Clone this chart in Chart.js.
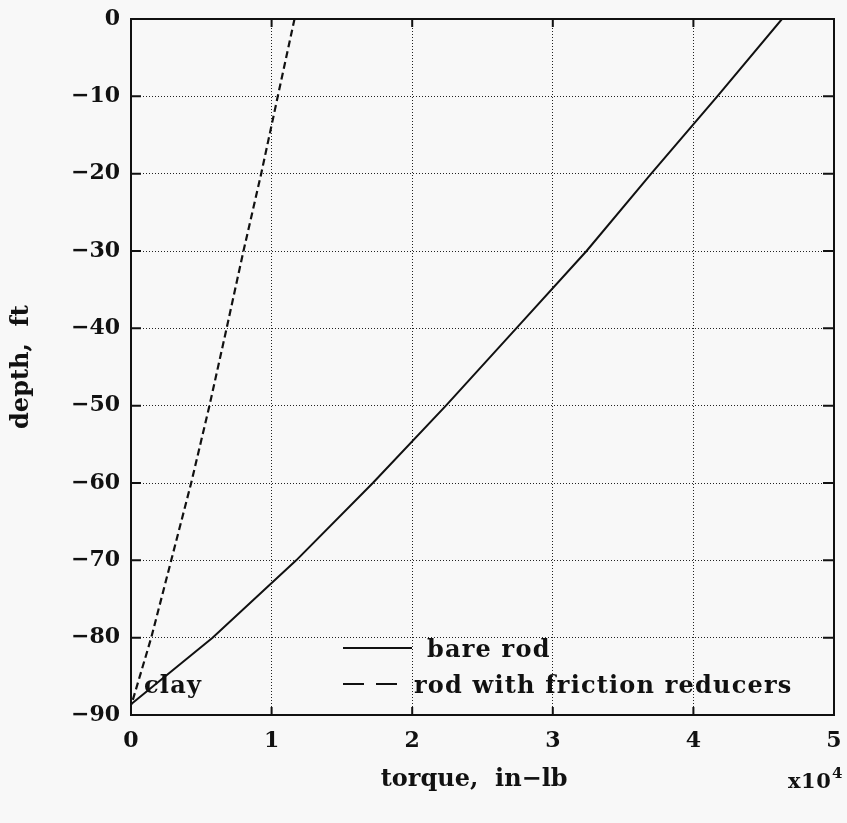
<!DOCTYPE html>
<html><head><meta charset="utf-8">
<script src="https://cdn.jsdelivr.net/npm/chart.js@4.4.0/dist/chart.umd.min.js"></script>
<style>html,body{margin:0;padding:0;background:#f8f8f8;}#wrap{width:847px;height:823px;}</style>
</head><body><div id="wrap"><canvas id="c" width="847" height="823"></canvas></div>
<script>
// depth (ft) at which torque was read
const depthFt = [0, -10, -20, -30, -40, -50, -60, -70, -80, -88.6];
// torque, in-lb (x10^4)
const bareRodTorque = [4.63, 4.17, 3.70, 3.24, 2.74, 2.24, 1.72, 1.175, 0.58, 0];
const reducerTorque = [1.163, 1.044, 0.926, 0.80, 0.68, 0.558, 0.428, 0.286, 0.144, 0.004];
const xTicks = [0, 1, 2, 3, 4, 5];
const yTicks = [0, -10, -20, -30, -40, -50, -60, -70, -80, -90];
const seriesNames = ['bare rod', 'rod with friction reducers'];
const soilLabel = 'clay';

const FONT = "'DejaVu Serif'";
const INK = '#111';

const decor = {
  id: 'decor',
  beforeDraw(chart) {
    const c = chart.ctx;
    c.save();
    c.fillStyle = '#f8f8f8';
    c.fillRect(0, 0, chart.width, chart.height);
    c.restore();
  },
  afterDraw(chart) {
    const c = chart.ctx;
    const a = chart.chartArea;
    const xs = chart.scales.x, ys = chart.scales.y;
    c.save();
    c.strokeStyle = INK;
    c.lineWidth = 2;
    c.setLineDash([]);
    c.strokeRect(a.left, a.top, a.right - a.left, a.bottom - a.top);
    // inward ticks
    c.beginPath();
    xTicks.forEach(v => {
      const px = xs.getPixelForValue(v);
      c.moveTo(px, a.bottom); c.lineTo(px, a.bottom - 8);
      c.moveTo(px, a.top); c.lineTo(px, a.top + 8);
    });
    yTicks.forEach(v => {
      const py = ys.getPixelForValue(v);
      c.moveTo(a.left, py); c.lineTo(a.left + 10, py);
      c.moveTo(a.right, py); c.lineTo(a.right - 11, py);
    });
    c.stroke();
    // legend
    c.lineWidth = 2;
    c.beginPath(); c.moveTo(343, 648); c.lineTo(412, 648); c.stroke();
    c.setLineDash([21, 12]);
    c.beginPath(); c.moveTo(343, 684); c.lineTo(398, 684); c.stroke();
    c.setLineDash([]);
    c.fillStyle = INK;
    c.font = `bold 24px ${FONT}`;
    c.letterSpacing = '1.2px';
    c.textAlign = 'left';
    c.textBaseline = 'alphabetic';
    c.fillText(seriesNames[0], 427, 657);
    c.fillText(seriesNames[1], 414, 693);
    c.fillText(soilLabel, 144, 693);
    // exponent label
    c.letterSpacing = '0.5px';
    c.font = `bold 21px ${FONT}`;
    c.fillText('x10', 788, 788);
    c.font = `bold 15px ${FONT}`;
    c.fillText('4', 832, 778);
    c.restore();
  }
};

const minus = s => String(s).replace('-', '\u2212');

new Chart(document.getElementById('c'), {
  type: 'scatter',
  data: {
    datasets: [
      {
        label: seriesNames[0],
        data: depthFt.map((d, i) => ({x: bareRodTorque[i], y: d})),
        showLine: true, borderColor: INK, borderWidth: 2, pointRadius: 0, tension: 0
      },
      {
        label: seriesNames[1],
        data: depthFt.map((d, i) => ({x: reducerTorque[i], y: d})),
        showLine: true, borderColor: INK, borderWidth: 2.2, borderDash: [7, 4], pointRadius: 0, tension: 0
      }
    ]
  },
  options: {
    responsive: false,
    animation: false,
    devicePixelRatio: 1,
    layout: {padding: {top: 19, right: 13, bottom: 0, left: 0}},
    plugins: {legend: {display: false}, tooltip: {enabled: false}},
    scales: {
      x: {
        type: 'linear', min: 0, max: 5,
        afterBuildTicks: s => { s.ticks = xTicks.map(v => ({value: v})); },
        afterFit: s => { s.height = 108; s.paddingLeft = 0; s.paddingRight = 0; },
        ticks: {color: INK, font: {family: FONT, size: 22, weight: 'bold'}, padding: 13, callback: v => minus(v)},
        grid: {color: '#222', lineWidth: 1, drawTicks: false},
        border: {display: false, dash: [1, 2]},
        title: {display: true, text: 'torque,  in\u2212lb  ', color: INK, font: {family: FONT, size: 24, weight: 'bold'}, padding: {top: 0, bottom: 29}}
      },
      y: {
        type: 'linear', min: -90, max: 0,
        afterBuildTicks: s => { s.ticks = yTicks.map(v => ({value: v})); },
        afterFit: s => { s.width = 131; s.paddingTop = 0; s.paddingBottom = 0; },
        ticks: {color: INK, font: {family: FONT, size: 22, weight: 'bold'}, padding: 11, callback: v => minus(v)},
        grid: {color: '#222', lineWidth: 1, drawTicks: false},
        border: {display: false, dash: [1, 2]},
        title: {display: true, text: 'depth,  ft', color: INK, font: {family: FONT, size: 24, weight: 'bold'}, padding: {top: 7, bottom: 0}}
      }
    }
  },
  plugins: [decor]
});
</script>
</body></html>
